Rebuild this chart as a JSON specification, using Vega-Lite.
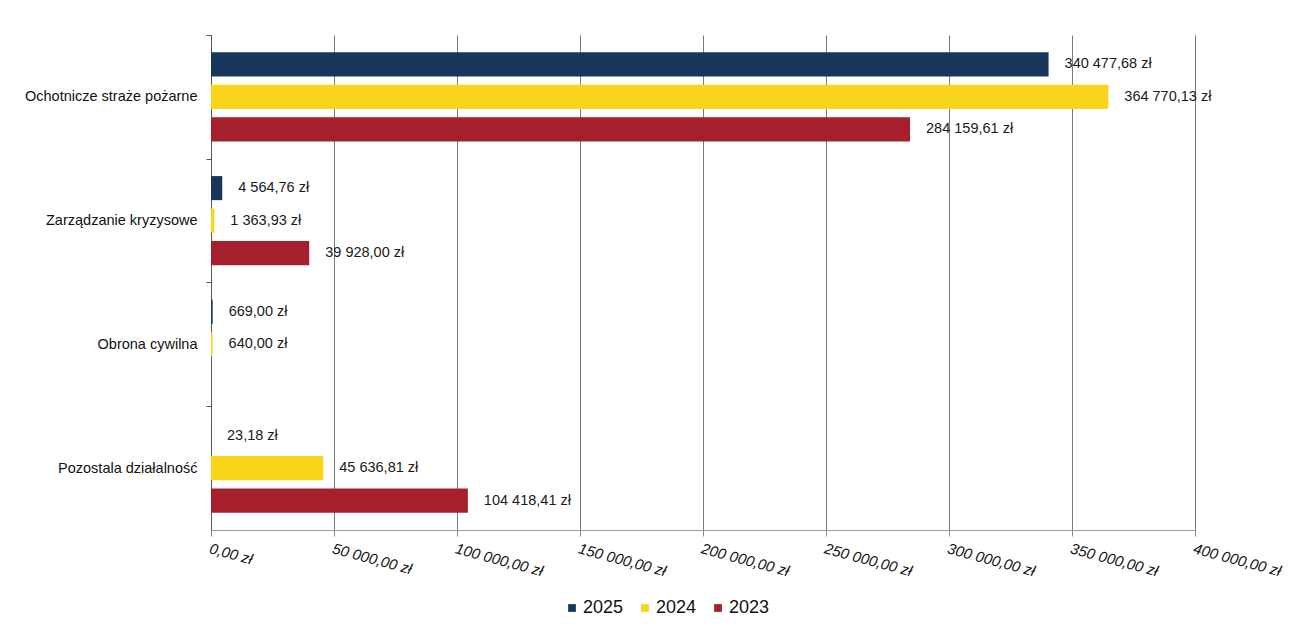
{
  "$schema": "https://vega.github.io/schema/vega-lite/v6.json",
  "autosize": {"type": "none"},
  "width": 984,
  "height": 495,
  "padding": {"left": 211, "top": 35, "right": 104, "bottom": 110},
  "background": "white",
  "config": {
    "locale": {
      "number": {"decimal": ",", "thousands": " ", "grouping": [3], "currency": ["", " zł"]}
    },
    "view": {"stroke": null},
    "font": "Liberation Sans"
  },
  "data": {
    "values": [
      {"category": "Ochotnicze straże pożarne", "year": "2025", "value": 340477.68},
      {"category": "Ochotnicze straże pożarne", "year": "2024", "value": 364770.13},
      {"category": "Ochotnicze straże pożarne", "year": "2023", "value": 284159.61},
      {"category": "Zarządzanie kryzysowe", "year": "2025", "value": 4564.76},
      {"category": "Zarządzanie kryzysowe", "year": "2024", "value": 1363.93},
      {"category": "Zarządzanie kryzysowe", "year": "2023", "value": 39928.00},
      {"category": "Obrona cywilna", "year": "2025", "value": 669.00},
      {"category": "Obrona cywilna", "year": "2024", "value": 640.00},
      {"category": "Pozostala działalność", "year": "2025", "value": 23.18},
      {"category": "Pozostala działalność", "year": "2024", "value": 45636.81},
      {"category": "Pozostala działalność", "year": "2023", "value": 104418.41}
    ]
  },
  "encoding": {
    "y": {
      "field": "category",
      "type": "nominal",
      "sort": ["Ochotnicze straże pożarne", "Zarządzanie kryzysowe", "Obrona cywilna", "Pozostala działalność"],
      "scale": {"paddingInner": 0.28, "paddingOuter": 0.14},
      "axis": {
        "title": null,
        "tickOffset": -62,
        "labelOffset": 62,
        "tickSize": 5,
        "tickColor": "#555555",
        "domainColor": "#555555",
        "labelFontSize": 14.5,
        "labelColor": "#111111",
        "labelPadding": 9,
        "labelFont": "Liberation Sans",
        "grid": false
      }
    },
    "yOffset": {
      "field": "year",
      "type": "nominal",
      "sort": ["2025", "2024", "2023"],
      "scale": {"paddingInner": 0.26, "paddingOuter": 0}
    },
    "x": {
      "field": "value",
      "type": "quantitative",
      "scale": {"domain": [0, 400000], "nice": false},
      "axis": {
        "title": null,
        "values": [0, 50000, 100000, 150000, 200000, 250000, 300000, 350000, 400000],
        "format": "$,.2f",
        "labelAngle": 15,
        "labelAlign": "left",
        "labelBaseline": "top",
        "labelFontStyle": "italic",
        "labelFontSize": 15,
        "labelColor": "#111111",
        "labelPadding": 5,
        "labelFlush": false,
        "labelOverlap": false,
        "tickSize": 6,
        "tickColor": "#888888",
        "domainColor": "#999999",
        "grid": true,
        "gridColor": "#7a7a7a",
        "gridWidth": 1
      }
    }
  },
  "layer": [
    {
      "mark": {"type": "bar"},
      "encoding": {
        "color": {
          "field": "year",
          "type": "nominal",
          "scale": {"domain": ["2025", "2024", "2023"], "range": ["#19375c", "#f8d51a", "#a51f2d"]},
          "legend": {
            "title": null,
            "orient": "none",
            "legendX": 352,
            "legendY": 564,
            "direction": "horizontal",
            "symbolType": "square",
            "symbolSize": 60,
            "labelFontSize": 18,
            "labelColor": "#111111",
            "labelOffset": 2,
            "columnPadding": 12
          }
        }
      }
    },
    {
      "mark": {"type": "text", "align": "left", "baseline": "middle", "dx": 16, "fontSize": 14.5, "color": "#1a1a1a"},
      "encoding": {
        "text": {"field": "value", "type": "quantitative", "format": "$,.2f"}
      }
    }
  ]
}
